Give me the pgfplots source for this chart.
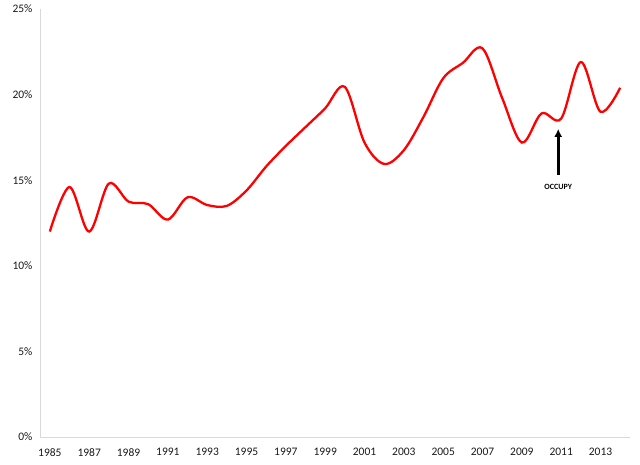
\documentclass[border=0pt]{standalone}
\usepackage{pgfplots}
\pgfplotsset{compat=1.18}
\usetikzlibrary{arrows.meta}
\usepackage{fontspec}
\setmainfont{Carlito}
\begin{document}
\begin{tikzpicture}
\useasboundingbox (-40pt,-28pt) rectangle (600pt,437pt);
\begin{axis}[
  scale only axis, width=590pt, height=428pt,
  at={(0,0)}, anchor=south west,
  xmin=1984.5, xmax=2014.5, ymin=0, ymax=25,
  axis x line*=bottom, axis y line*=left,
  axis line style={draw=black!15, line width=0.8pt, -},
  xtick={1985,1987,...,2013}, ytick={0,5,...,25},
  major tick length=0pt,
  xticklabel style={/pgf/number format/1000 sep={}},
  yticklabel={\pgfmathprintnumber{\tick}\%},
  /pgf/number format/assume math mode=true,
  tick label style={font=\fontsize{11.5}{13}\selectfont, text=black!90},
  xticklabel shift=8pt, yticklabel shift=4pt,
  clip=false,
]
\addplot[red, line width=2.3pt, smooth, tension=0.55] coordinates {
(1985,12.0) (1986,14.6) (1987,12.0) (1988,14.8) (1989,13.75) (1990,13.6)
(1991,12.7) (1992,14.0) (1993,13.55) (1994,13.5) (1995,14.4) (1996,15.8)
(1997,17.0) (1998,18.1) (1999,19.2) (2000,20.45) (2001,17.2) (2002,15.95)
(2003,16.75) (2004,18.7) (2005,20.95) (2006,21.85) (2007,22.7) (2008,19.8)
(2009,17.2) (2010,18.9) (2011,18.6) (2012,21.9) (2013,19.0) (2014,20.4)
};
\draw[-{Latex[length=8pt,width=8pt]}, line width=2.8pt, black] (axis cs:2010.85,15.3) -- (axis cs:2010.85,18.0);
\node[font=\bfseries\fontsize{8}{9}\selectfont] at (axis cs:2010.85,14.6) {OCCUPY};
\end{axis}
\end{tikzpicture}
\end{document}
